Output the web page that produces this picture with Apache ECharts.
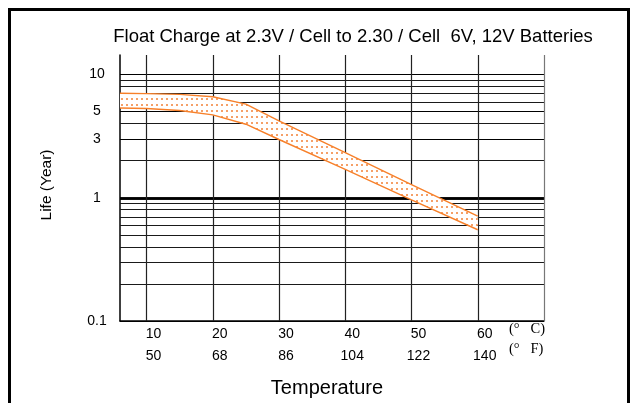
<!DOCTYPE html>
<html><head><meta charset="utf-8">
<script src="https://cdn.jsdelivr.net/npm/echarts@6/dist/echarts.min.js"></script>
<style>html,body{margin:0;padding:0;background:#fff}#c{width:635px;height:403px}</style>
</head><body><div id="c"></div>
<script>
// ---- data ----
const tempC = [10, 20, 30, 40, 50, 60];
const tempF = [50, 68, 86, 104, 122, 140];
const yLabelValues = [10, 5, 3, 1, 0.1];
const yGridValues = [0.2, 0.3, 0.4, 0.5, 0.6, 0.7, 0.8, 0.9, 1, 2, 3, 4, 5, 6, 7, 8, 9, 10];
const bandTemp = [6, 10, 15, 20, 25, 30, 40, 50, 60];
const upperLife = [7.05, 7.0, 6.9, 6.6, 5.75, 4.2, 2.32, 1.28, 0.71];
const lowerLife = [5.35, 5.3, 5.1, 4.7, 3.95, 2.97, 1.7, 0.96, 0.55];

const FONT = "'Liberation Sans', Arial, sans-serif";
const ORANGE = '#f7802a';

function makePattern() {
  const c = document.createElement('canvas');
  c.width = 5; c.height = 6;
  const g = c.getContext('2d');
  g.fillStyle = '#fff'; g.fillRect(0, 0, 5, 6);
  g.fillStyle = '#f5a068'; g.fillRect(1, 2, 2, 2);
  return c;
}
const pat = makePattern();

const chart = echarts.init(document.getElementById('c'), null, { renderer: 'canvas' });

const hLines = yGridValues.map(v => ({
  yAxis: v,
  lineStyle: v === 1 ? { width: 2.6, color: '#000' } : { width: 1.2, color: '#1a1a1a' },
  label: { show: false }
}));
const labelLines = yLabelValues.map(v => ({
  yAxis: v,
  lineStyle: { width: v === 1 ? 2.6 : 1.2, color: '#000' },
  label: {
    show: true, position: 'start', distance: 9,
    formatter: '{a|' + v + '}',
    rich: { a: { width: 28, align: 'center', fontSize: 14, fontFamily: FONT, color: '#000' } }
  }
}));
const vLines = tempC.map(v => ({ xAxis: v, lineStyle: { width: 1.2, color: '#222' }, label: { show: false } }));
vLines.push({ xAxis: 70, lineStyle: { width: 1.2, color: '#777' }, label: { show: false } });

const option = {
  animation: false,
  backgroundColor: '#fff',
  grid: { left: 120, right: 91, top: 55, bottom: 82 },
  xAxis: {
    type: 'value', min: 6, max: 70,
    axisLine: { show: true, lineStyle: { color: '#000', width: 1.5 } },
    axisTick: { show: false },
    splitLine: { show: false },
    axisLabel: {
      customValues: tempC,
      margin: 2,
      padding: [0, 0, 0, 14],
      formatter: function (v) {
        const i = tempC.indexOf(v);
        return '{c|' + tempC[i] + '}\n{f|' + tempF[i] + '}';
      },
      rich: {
        c: { fontSize: 14, lineHeight: 22, fontFamily: FONT, color: '#000' },
        f: { fontSize: 14, lineHeight: 22, fontFamily: FONT, color: '#000' }
      }
    }
  },
  yAxis: {
    type: 'log', logBase: 10, min: 0.1, max: 14.4,
    axisLine: { show: true, lineStyle: { color: '#000', width: 1.5 } },
    axisTick: { show: false },
    axisLabel: { show: false },
    splitLine: { show: false }
  },
  graphic: [
    { type: 'rect', z: 100, shape: { x: 9.5, y: 9.5, width: 619, height: 420 },
      style: { fill: 'none', stroke: '#000', lineWidth: 3 } },
    { type: 'text', x: 353, y: 37, style: { text: 'Float Charge at 2.3V / Cell to 2.30 / Cell  6V, 12V Batteries',
      fontSize: 18.5, fontFamily: FONT, fill: '#000', textAlign: 'center', textVerticalAlign: 'middle' } },
    { type: 'text', x: 327, y: 388, style: { text: 'Temperature', fontSize: 20, fontFamily: FONT, fill: '#000',
      textAlign: 'center', textVerticalAlign: 'middle' } },
    { type: 'text', x: 47, y: 185, rotation: Math.PI / 2, style: { text: 'Life (Year)', fontSize: 15.5, fontFamily: FONT,
      fill: '#000', textAlign: 'center', textVerticalAlign: 'middle' } },
    { type: 'text', x: 509, y: 329, style: { text: '(°   C)', fontSize: 14.5, fontFamily: "'Liberation Serif', serif",
      fill: '#000', textAlign: 'left', textVerticalAlign: 'middle' } },
    { type: 'text', x: 509, y: 349, style: { text: '(°   F)', fontSize: 14.5, fontFamily: "'Liberation Serif', serif",
      fill: '#000', textAlign: 'left', textVerticalAlign: 'middle' } }
  ],
  series: [
    {
      type: 'line', data: [], z: 1, silent: true,
      markLine: {
        z: 1, silent: true, animation: false, symbol: ['none', 'none'],
        label: { show: false },
        lineStyle: { type: 'solid' },
        emphasis: { disabled: true },
        data: hLines.concat(labelLines, vLines)
      }
    },
    {
      type: 'custom', z: 5, silent: true,
      data: [[bandTemp[0], upperLife[0]]],
      renderItem: function (params, api) {
        const pts = [];
        for (let i = 0; i < bandTemp.length; i++) pts.push(api.coord([bandTemp[i], upperLife[i]]));
        for (let i = bandTemp.length - 1; i >= 0; i--) pts.push(api.coord([bandTemp[i], lowerLife[i]]));
        return { type: 'polygon', shape: { points: pts }, style: { fill: { image: pat, repeat: 'repeat' }, stroke: null } };
      }
    },
    {
      type: 'line', z: 6, silent: true, showSymbol: false,
      data: bandTemp.map((t, i) => [t, upperLife[i]]),
      lineStyle: { color: ORANGE, width: 1.4 }
    },
    {
      type: 'line', z: 6, silent: true, showSymbol: false,
      data: bandTemp.map((t, i) => [t, lowerLife[i]]),
      lineStyle: { color: ORANGE, width: 1.4 }
    }
  ]
};
chart.setOption(option);
</script>
</body></html>
